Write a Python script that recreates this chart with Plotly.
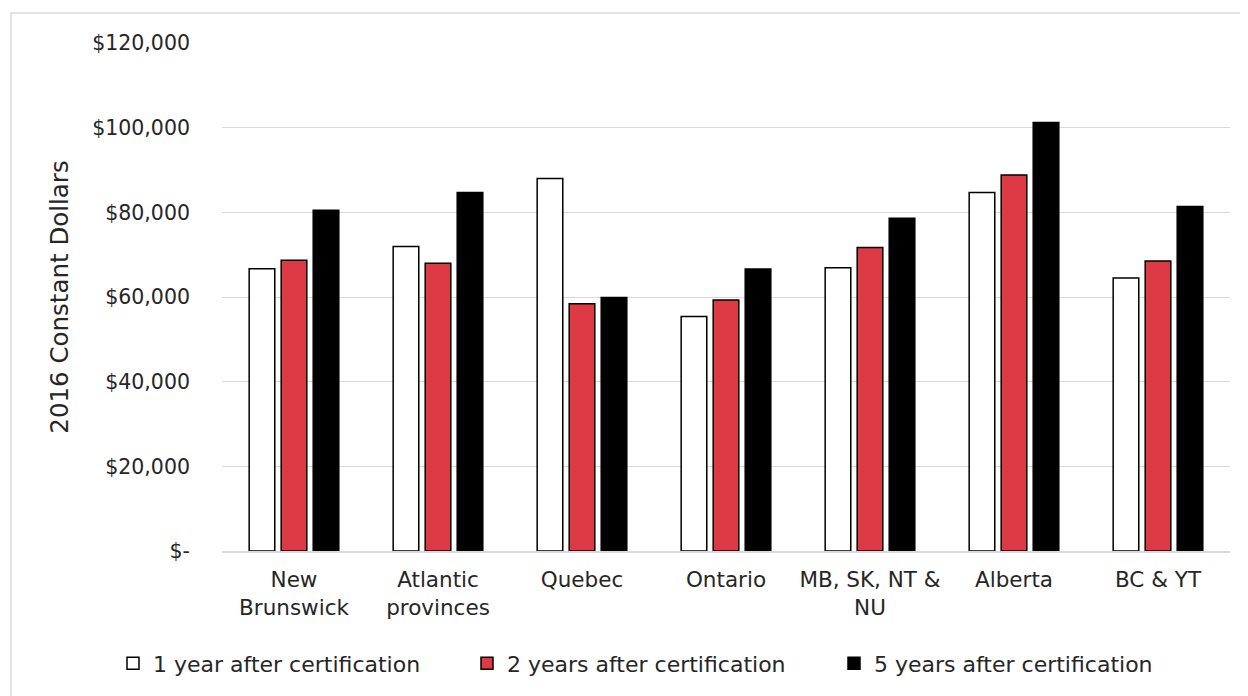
import plotly.graph_objects as go

categories = ["New<br>Brunswick", "Atlantic<br>provinces", "Quebec", "Ontario",
              "MB, SK, NT &<br>NU", "Alberta", "BC & YT"]
series_names = ["1 year after certification", "2 years after certification",
                "5 years after certification"]
year1 = [66700, 71900, 88000, 55400, 66900, 84700, 64500]
year2 = [68700, 68000, 58400, 59300, 71700, 88800, 68500]
year5 = [80500, 84700, 59900, 66600, 78600, 101200, 81400]
tick_vals = [0, 20000, 40000, 60000, 80000, 100000, 120000]
tick_text = ["$-", "$20,000", "$40,000", "$60,000", "$80,000", "$100,000", "$120,000"]

fills = ["#ffffff", "#dd3a45", "#000000"]
legend_ids = ["legend", "legend2", "legend3"]
FONT = "DejaVu Sans"
TXT = "#262626"

fig = go.Figure()
for name, vals, col, lg in zip(series_names, [year1, year2, year5], fills, legend_ids):
    fig.add_trace(go.Bar(
        x=categories, y=vals, name=name, legend=lg,
        marker=dict(color=col, line=dict(color="#000000", width=1.5)),
    ))

# figure is 1240x688 (page body adds an 8px offset)
W, H = 1240, 688
L, R, T, B = 214, 18, 35, 143
pw, ph = W - L - R, H - T - B

def px(xp):
    return (xp - L) / pw

def py(yp):
    return (H - B - yp) / ph

def legend_at(xfig):
    return dict(
        orientation="h", x=px(xfig), xanchor="left", y=py(658), yanchor="middle",
        font=dict(family=FONT, size=22, color=TXT),
        bgcolor="rgba(0,0,0,0)",
    )

fig.update_layout(
    width=W, height=H,
    margin=dict(l=L, r=R, t=T, b=B, pad=0),
    paper_bgcolor="white", plot_bgcolor="white",
    barmode="group", bargap=0.333, bargroupgap=0.2,
    font=dict(family=FONT, size=20, color=TXT),
    showlegend=True,
    legend=legend_at(105),
    legend2=legend_at(459),
    legend3=legend_at(826),
    xaxis=dict(
        showgrid=False, showline=True, linecolor="#d9d9d9", linewidth=1.5,
        ticks="", ticklabelstandoff=8,
        tickfont=dict(family=FONT, size=21.5, color=TXT),
        fixedrange=True,
    ),
    yaxis=dict(
        range=[0, 120000], tickvals=tick_vals, ticktext=tick_text,
        showgrid=True, gridcolor="#d9d9d9", gridwidth=1,
        zeroline=False, showline=False, ticks="", ticklabelstandoff=31,
        tickfont=dict(family=FONT, size=20.5, color=TXT),
        title=dict(text="2016 Constant Dollars", standoff=16,
                   font=dict(family=FONT, size=24.5, color=TXT)),
        fixedrange=True,
    ),
    shapes=[dict(
        type="rect", xref="paper", yref="paper",
        x0=px(3), x1=px(1260), y0=py(720), y1=py(5),
        line=dict(color="#d9d9d9", width=1.5), fillcolor="rgba(0,0,0,0)",
        layer="below",
    )],
)

fig.write_html("out.html")
